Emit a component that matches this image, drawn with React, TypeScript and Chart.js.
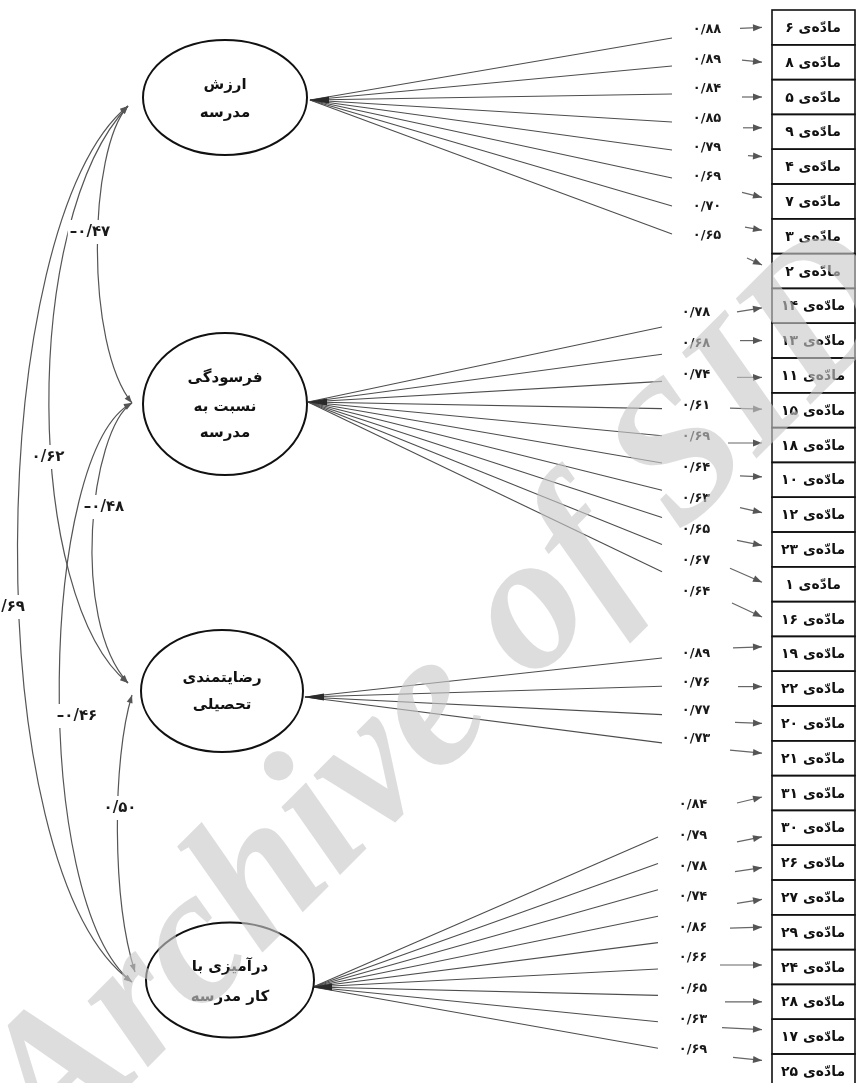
import React, { useEffect, useRef } from 'react';
import { Chart, registerables } from 'chart.js';

Chart.register(...registerables);

const W = 856;
const H = 1083;

// ---------------- data ----------------
const factorNames = [
  ['ارزش', 'مدرسه'],
  ['فرسودگی', 'نسبت به', 'مدرسه'],
  ['رضایتمندی', 'تحصیلی'],
  ['درآمیزی با', 'کار مدرسه'],
];
const factor1Items = [6, 8, 5, 9, 4, 7, 3, 2];
const factor1Loadings = [0.88, 0.89, 0.84, 0.85, 0.79, 0.69, 0.7, 0.65];
const factor2Items = [14, 13, 11, 15, 18, 10, 12, 23, 1, 16];
const factor2Loadings = [0.78, 0.68, 0.74, 0.61, 0.69, 0.64, 0.63, 0.65, 0.67, 0.64];
const factor3Items = [19, 22, 20, 21];
const factor3Loadings = [0.89, 0.76, 0.77, 0.73];
const factor4Items = [31, 30, 26, 27, 29, 24, 28, 17, 25];
const factor4Loadings = [0.84, 0.79, 0.78, 0.74, 0.86, 0.66, 0.65, 0.63, 0.69];
const correlationPairs = [[0, 1], [0, 2], [0, 3], [1, 2], [1, 3], [2, 3]];
const correlationValues = [-0.47, 0.62, 0.69, -0.48, -0.46, 0.5];
const itemWord = 'مادّه‌ی';

// ---------------- layout ----------------
const ROW_TOP = 10;
const ROW_H = 34.8;
const BOX_X0 = 772;
const BOX_X1 = 855;
const ellipseGeom = [
  { cx: 225, cy: 97.5, rx: 82, ry: 57.5 },
  { cx: 225, cy: 404, rx: 82, ry: 71 },
  { cx: 222, cy: 691, rx: 81, ry: 61 },
  { cx: 230, cy: 980, rx: 84, ry: 57.5 },
];
const nameLineOffsets = [[-12.5, 15.5], [-26, 3, 29], [-13, 14], [-13, 17]];
const sourcePts = [[310, 100], [308, 402], [305, 697], [313, 987]];
const fanEnds = [
  { x: 672, y0: 38, dy: 28 },
  { x: 662, y0: 327, dy: 27.2 },
  { x: 662, y0: 658, dy: 28.3 },
  { x: 658, y0: 837, dy: 26.4 },
];
const loadLabelPos = [
  { x: 707, y0: 30, dy: 29.4 },
  { x: 696, y0: 313, dy: 31 },
  { x: 696, y0: 654, dy: 28.3 },
  { x: 693, y0: 805, dy: 30.6 },
];
const arrowTailX = [740, 742, 742, 743, 748, 742, 745, 747, 737, 740, 737, 730, 728, 740, 740, 737, 730, 732, 733, 738, 735, 730, 737, 737, 735, 737, 730, 720, 725, 722, 733];
const arrowEndOff = [0, 0, 0, -4, -10, -4, -6, -6, 2, 0, 2, -1, -2, -3, -2, -4, -2, -2, -7, -2, 0, -5, 4, 9, 5, 2, -5, -2, 0, -7, -11];
const arrowRise = [1, -2, 0, 0, -1, -5, -3, -7, 4, 0, 0, -1, 0, -1, -5, -5, -14, -14, 1, 0, -1, -3, 6, 5, 4, 4, 1, 0, 0, -2, -3];
const ARROW_HEAD_X = 762;
// correlation curve geometry (cubic bezier) and label placement
const corrCurves = [
  { p0: [128, 106], c1: [88, 150], c2: [85, 345], p3: [132, 403], lx: 90, ly: 232, align: 'center' },
  { p0: [128, 106], c1: [20, 220], c2: [25, 600], p3: [128, 683], lx: 48, ly: 457, align: 'center' },
  { p0: [128, 106], c1: [-15, 220], c2: [-25, 870], p3: [132, 982], lx: 25, ly: 607, align: 'right' },
  { p0: [132, 403], c1: [90, 430], c2: [70, 620], p3: [128, 683], lx: 104, ly: 507, align: 'center' },
  { p0: [132, 403], c1: [40, 450], c2: [30, 900], p3: [132, 982], lx: 77, ly: 716, align: 'center' },
  { p0: [132, 695], c1: [112, 760], c2: [112, 900], p3: [135, 972], lx: 120, ly: 808, align: 'center' },
];

const groupItems = [factor1Items, factor2Items, factor3Items, factor4Items];
const groupLoadings = [factor1Loadings, factor2Loadings, factor3Loadings, factor4Loadings];

const FA = '۰۱۲۳۴۵۶۷۸۹';
function toFa(s: string) {
  return s.replace(/[0-9]/g, (d) => FA[+d]).replace('.', '/');
}
function fmtVal(v: number) {
  return (v < 0 ? '–' : '') + toFa(Math.abs(v).toFixed(2));
}
function rowCenter(i: number) {
  return ROW_TOP + ROW_H * (i + 0.5);
}

// build line datasets for loadings
const loadingDatasets: any[] = [];
groupItems.forEach((items, g) => {
  items.forEach((_, k) => {
    loadingDatasets.push({
      data: [
        { x: sourcePts[g][0], y: sourcePts[g][1] },
        { x: fanEnds[g].x, y: fanEnds[g].y0 + k * fanEnds[g].dy },
      ],
      showLine: true,
      borderColor: '#4d4d4d',
      borderWidth: 1.1,
      pointRadius: 0,
      fill: false,
    });
  });
});

const FONT = '"DejaVu Sans", "Noto Sans", sans-serif';

const diagramPlugin = {
  id: 'semDiagram',
  beforeDraw(chart: any) {
    const ctx = chart.ctx;
    ctx.save();
    ctx.fillStyle = '#ffffff';
    ctx.fillRect(0, 0, chart.width, chart.height);
    ctx.restore();
  },
  afterDatasetsDraw(chart: any) {
    const ctx: CanvasRenderingContext2D = chart.ctx;
    const xs = chart.scales.x;
    const ys = chart.scales.y;
    const X = (v: number) => xs.getPixelForValue(v);
    const Y = (v: number) => ys.getPixelForValue(v);

    const head = (tx: number, ty: number, ang: number, len: number, hw: number, color: string) => {
      ctx.save();
      ctx.translate(tx, ty);
      ctx.rotate(ang);
      ctx.beginPath();
      ctx.moveTo(0, 0);
      ctx.lineTo(-len, -hw);
      ctx.lineTo(-len, hw);
      ctx.closePath();
      ctx.fillStyle = color;
      ctx.fill();
      ctx.restore();
    };

    ctx.save();
    // source wedges
    sourcePts.forEach(([sx, sy]) => {
      head(X(sx) - 1, Y(sy), Math.PI, 20, 3.5, '#2a2a2a');
    });

    // ellipses
    ellipseGeom.forEach((e, g) => {
      const cx = X(e.cx), cy = Y(e.cy);
      const rx = Math.abs(X(e.cx + e.rx) - cx), ry = Math.abs(Y(e.cy + e.ry) - cy);
      ctx.beginPath();
      ctx.ellipse(cx, cy, rx, ry, 0, 0, Math.PI * 2);
      ctx.fillStyle = '#fff';
      ctx.fill();
      ctx.lineWidth = 2;
      ctx.strokeStyle = '#111';
      ctx.stroke();
      ctx.fillStyle = '#111';
      ctx.font = `bold 15px ${FONT}`;
      ctx.textAlign = 'center';
      ctx.textBaseline = 'middle';
      (ctx as any).direction = 'rtl';
      factorNames[g].forEach((line, j) => {
        ctx.fillText(line, cx, Y(e.cy + nameLineOffsets[g][j]));
      });
    });

    // boxes
    const all: number[] = ([] as number[]).concat(...groupItems);
    ctx.lineWidth = 1.6;
    ctx.strokeStyle = '#111';
    all.forEach((num, i) => {
      const top = Y(ROW_TOP + ROW_H * i);
      const bot = Y(ROW_TOP + ROW_H * (i + 1));
      ctx.strokeRect(X(BOX_X0), top, X(BOX_X1) - X(BOX_X0), bot - top);
      ctx.fillStyle = '#111';
      ctx.font = `bold 14px ${FONT}`;
      ctx.textAlign = 'center';
      ctx.textBaseline = 'middle';
      (ctx as any).direction = 'rtl';
      ctx.fillText(itemWord + ' ' + toFa(String(num)), X(813), Y(rowCenter(i)) + 1);
    });

    // short arrows into boxes
    ctx.strokeStyle = '#666';
    ctx.lineWidth = 1.2;
    all.forEach((_, i) => {
      const ey = rowCenter(i) + arrowEndOff[i];
      const sy = ey + arrowRise[i];
      const x0 = X(arrowTailX[i]), y0 = Y(sy), x1 = X(ARROW_HEAD_X), y1 = Y(ey);
      ctx.beginPath();
      ctx.moveTo(x0, y0);
      ctx.lineTo(x1, y1);
      ctx.stroke();
      head(x1, y1, Math.atan2(y1 - y0, x1 - x0), 9, 3.5, '#555');
    });

    // loading labels
    ctx.fillStyle = '#1a1a1a';
    ctx.font = `bold 13px ${FONT}`;
    ctx.textAlign = 'center';
    ctx.textBaseline = 'middle';
    (ctx as any).direction = 'ltr';
    groupLoadings.forEach((vals, g) => {
      vals.forEach((v, k) => {
        const p = loadLabelPos[g];
        ctx.fillText(fmtVal(v), X(p.x), Y(p.y0 + k * p.dy));
      });
    });

    // correlation curves
    ctx.strokeStyle = '#555';
    ctx.lineWidth = 1.2;
    corrCurves.forEach((c) => {
      const P0 = [X(c.p0[0]), Y(c.p0[1])];
      const C1 = [X(c.c1[0]), Y(c.c1[1])];
      const C2 = [X(c.c2[0]), Y(c.c2[1])];
      const P3 = [X(c.p3[0]), Y(c.p3[1])];
      ctx.beginPath();
      ctx.moveTo(P0[0], P0[1]);
      ctx.bezierCurveTo(C1[0], C1[1], C2[0], C2[1], P3[0], P3[1]);
      ctx.stroke();
      head(P0[0], P0[1], Math.atan2(P0[1] - C1[1], P0[0] - C1[0]), 8, 3, '#555');
      head(P3[0], P3[1], Math.atan2(P3[1] - C2[1], P3[0] - C2[0]), 8, 3, '#555');
    });
    // correlation labels with white gap
    ctx.font = `bold 15px ${FONT}`;
    ctx.textBaseline = 'middle';
    (ctx as any).direction = 'ltr';
    correlationPairs.forEach((_, i) => {
      const c = corrCurves[i];
      const txt = fmtVal(correlationValues[i]);
      const w = ctx.measureText(txt).width;
      const x = X(c.lx), y = Y(c.ly);
      const left = c.align === 'right' ? x - w : x - w / 2;
      ctx.fillStyle = '#fff';
      ctx.fillRect(left - 2, y - 12, w + 4, 24);
      ctx.fillStyle = '#1a1a1a';
      ctx.textAlign = c.align as CanvasTextAlign;
      ctx.fillText(txt, x, y);
    });
    ctx.restore();
  },
  afterDraw(chart: any) {
    const ctx: CanvasRenderingContext2D = chart.ctx;
    const xs = chart.scales.x;
    const ys = chart.scales.y;
    ctx.save();
    ctx.translate(xs.getPixelForValue(53), ys.getPixelForValue(1162));
    ctx.rotate(-Math.PI / 4);
    ctx.font = 'italic bold 195px "Liberation Serif", "DejaVu Serif", serif';
    ctx.textAlign = 'left';
    ctx.textBaseline = 'alphabetic';
    (ctx as any).direction = 'ltr';
    ctx.fillStyle = 'rgba(200,200,200,0.62)';
    ctx.fillText('Archive of SID', 0, 0);
    ctx.restore();
  },
};

export default function App() {
  const ref = useRef<HTMLCanvasElement>(null);
  useEffect(() => {
    document.body.style.margin = '0';
    const chart = new Chart(ref.current as HTMLCanvasElement, {
      type: 'scatter',
      data: { datasets: loadingDatasets },
      options: {
        responsive: false,
        maintainAspectRatio: false,
        animation: false,
        devicePixelRatio: 1,
        events: [],
        layout: { padding: 0 },
        scales: {
          x: { type: 'linear', min: 0, max: W, display: false },
          y: { type: 'linear', min: 0, max: H, reverse: true, display: false },
        },
        plugins: { legend: { display: false }, tooltip: { enabled: false } },
      } as any,
      plugins: [diagramPlugin as any],
    });
    return () => chart.destroy();
  }, []);
  return (
    <div style={{ position: 'absolute', left: 0, top: 0, width: W, height: H, background: '#fff' }}>
      <canvas ref={ref} width={W} height={H} style={{ display: 'block', width: W, height: H }} />
    </div>
  );
}
